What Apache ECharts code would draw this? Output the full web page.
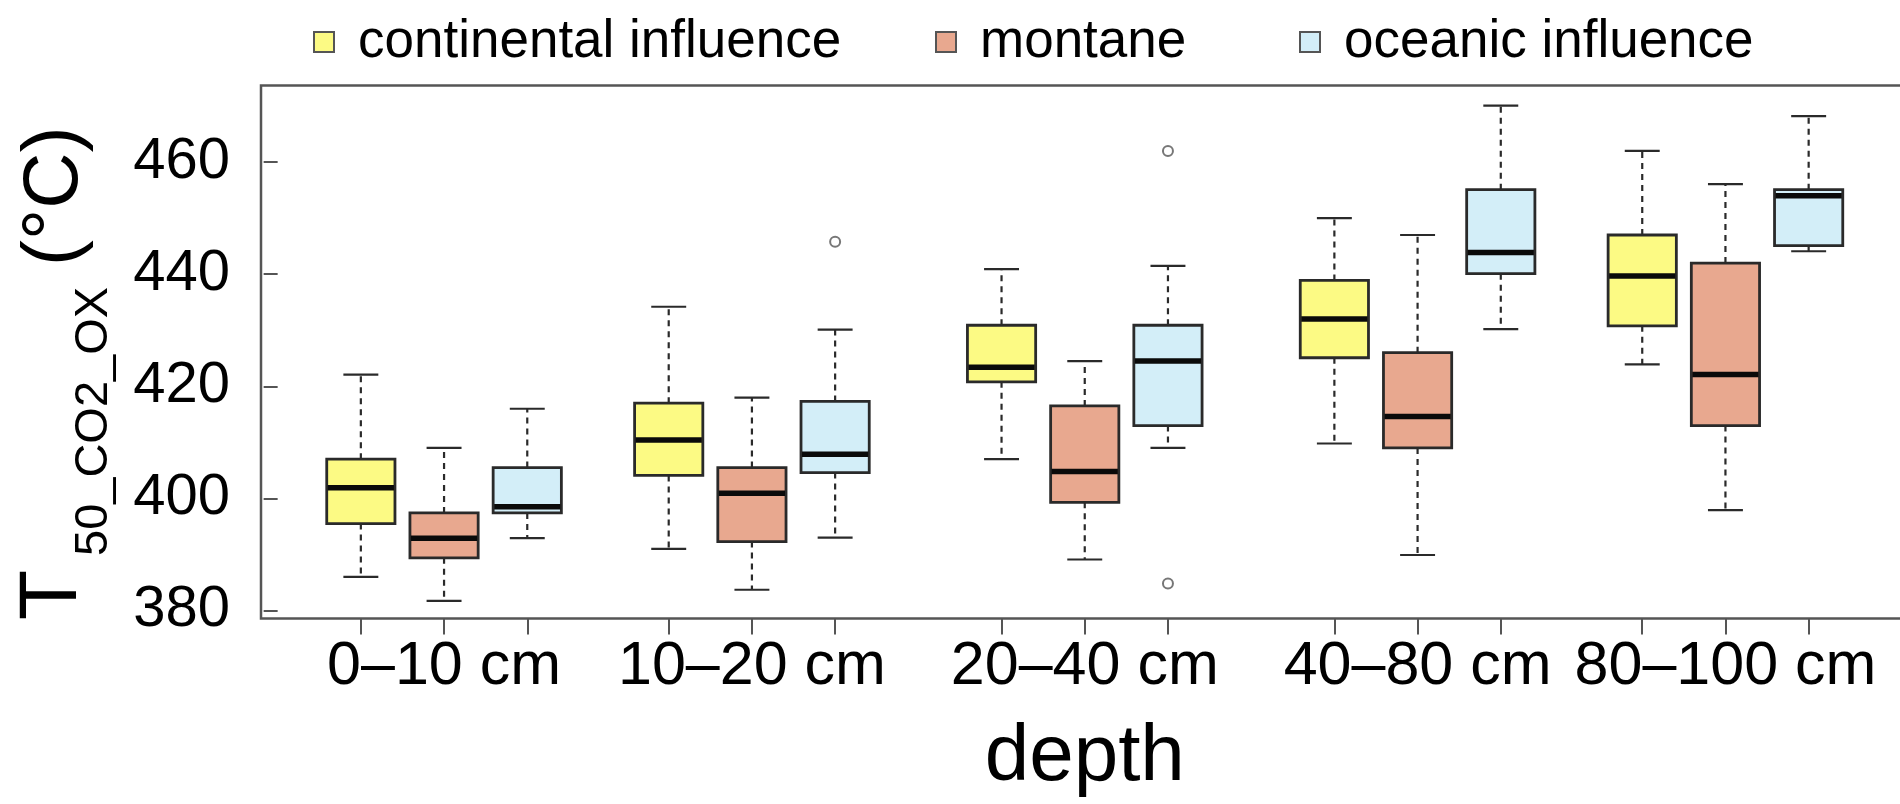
<!DOCTYPE html>
<html>
<head>
<meta charset="utf-8">
<script src="https://cdn.jsdelivr.net/npm/echarts@6/dist/echarts.min.js"></script>
<style>html,body{margin:0;padding:0;background:#fff}#c{width:1900px;height:804px}</style>
</head>
<body>
<div id="c"></div>
<script>
// ---------- data ----------
const categories = ['0–10 cm', '10–20 cm', '20–40 cm', '40–80 cm', '80–100 cm'];
const seriesNames = ['continental influence', 'montane', 'oceanic influence'];
// each row: [lower whisker, Q1, median, Q3, upper whisker]
const continental = [
  [386.0, 395.5, 401.9, 407.0, 422.1],
  [391.0, 404.1, 410.4, 417.0, 434.2],
  [407.0, 420.8, 423.4, 430.9, 440.9],
  [409.8, 425.1, 432.0, 438.9, 450.0],
  [423.9, 430.8, 439.7, 447.0, 462.0]
];
const montane = [
  [381.7, 389.4, 392.9, 397.4, 409.0],
  [383.7, 392.3, 400.9, 405.5, 418.0],
  [389.1, 399.3, 404.8, 416.5, 424.5],
  [389.9, 409.0, 414.6, 426.0, 447.0],
  [397.9, 413.0, 422.1, 442.0, 456.1]
];
const oceanic = [
  [392.9, 397.4, 398.5, 405.5, 416.0],
  [393.0, 404.6, 407.9, 417.3, 430.1],
  [409.0, 413.0, 424.5, 430.9, 441.5],
  [430.2, 440.1, 443.9, 455.1, 470.1],
  [444.1, 445.1, 454.0, 455.1, 468.2]
];
// outliers of oceanic influence: [category index, value]
const oceanicOutliers = [[1, 445.8], [2, 462.0], [2, 384.8]];
const yTicks = [380, 400, 420, 440, 460];

// ---------- layout / style ----------
const FONT = "'Liberation Sans', Arial, sans-serif";
const groupStart = [1, 4.7, 8.7, 12.7, 16.4];   // axis position of first box in each group
const fills = ['#FCFA84', '#E8A88F', '#D3EEF8'];
const BOX_W = 0.82, CAP_W = 0.42;
const STROKE = '#2a2a2a';

const boxPositions = [];
groupStart.forEach(g => { for (let s = 0; s < 3; s++) boxPositions.push(g + s); });
const labelPositions = groupStart.map(g => g + 1);

function renderBox(fill) {
  return function (params, api) {
    const x = api.value(0);
    const pMin = api.coord([x, api.value(1)]);
    const pQ1 = api.coord([x, api.value(2)]);
    const pMed = api.coord([x, api.value(3)]);
    const pQ3 = api.coord([x, api.value(4)]);
    const pMax = api.coord([x, api.value(5)]);
    const bw = api.size([BOX_W, 0])[0];
    const cw = api.size([CAP_W, 0])[0];
    const cx = pMed[0];
    const dash = { stroke: STROKE, lineWidth: 2.2, lineDash: [6, 5] };
    const solid = { stroke: STROKE, lineWidth: 2.2 };
    return {
      type: 'group',
      children: [
        { type: 'line', shape: { x1: cx, y1: pQ3[1], x2: cx, y2: pMax[1] }, style: dash },
        { type: 'line', shape: { x1: cx, y1: pQ1[1], x2: cx, y2: pMin[1] }, style: dash },
        { type: 'line', shape: { x1: cx - cw / 2, y1: pMax[1], x2: cx + cw / 2, y2: pMax[1] }, style: solid },
        { type: 'line', shape: { x1: cx - cw / 2, y1: pMin[1], x2: cx + cw / 2, y2: pMin[1] }, style: solid },
        { type: 'rect', shape: { x: cx - bw / 2, y: pQ3[1], width: bw, height: pQ1[1] - pQ3[1] },
          style: { fill: fill, stroke: STROKE, lineWidth: 2.8 } },
        { type: 'line', shape: { x1: cx - bw / 2 + 1, y1: pMed[1], x2: cx + bw / 2 - 1, y2: pMed[1] },
          style: { stroke: '#0a0a0a', lineWidth: 5.5 } }
      ]
    };
  };
}

const allStats = [continental, montane, oceanic];
const series = allStats.map((stats, si) => ({
  name: seriesNames[si],
  type: 'custom',
  renderItem: renderBox(fills[si]),
  itemStyle: { color: fills[si] },
  encode: { x: 0, y: [1, 2, 3, 4, 5] },
  data: stats.map((row, gi) => [groupStart[gi] + si].concat(row)),
  z: 3
}));
series.push({
  name: 'oceanic outliers',
  type: 'scatter',
  symbol: 'emptyCircle',
  symbolSize: 10,
  itemStyle: { color: '#555', borderColor: '#555', borderWidth: 1.8 },
  data: oceanicOutliers.map(o => [groupStart[o[0]] + 2, o[1]]),
  z: 4
});

const legendLeft = [313, 935, 1299];
const legends = seriesNames.map((n, i) => ({
  data: [{ name: n, icon: 'rect', itemStyle: { color: fills[i], borderColor: '#555', borderWidth: 2 } }],
  left: legendLeft[i], top: 12, padding: 0,
  itemWidth: 20, itemHeight: 20, selectedMode: false,
  textStyle: { fontSize: 53, color: '#000', fontFamily: FONT, padding: [0, 0, 0, 19], lineHeight: 60 }
}));

const chart = echarts.init(document.getElementById('c'));
chart.setOption({
  animation: false,
  backgroundColor: '#fff',
  legend: legends,
  grid: {
    left: 261, right: -8.5, top: 85.4, bottom: 185.4,
    show: true, borderColor: '#555', borderWidth: 2.5,
    containLabel: false, outerBoundsMode: 'none'
  },
  xAxis: {
    type: 'value', min: -0.2, max: 19.6,
    splitLine: { show: false },
    axisLine: { show: false },
    axisTick: { show: true, customValues: boxPositions, length: 16, lineStyle: { color: '#555', width: 2 } },
    axisLabel: {
      customValues: labelPositions,
      formatter: v => categories[labelPositions.findIndex(p => Math.abs(p - v) < 1e-6)] || '',
      fontSize: 61, color: '#000', fontFamily: FONT, margin: 18.5
    },
    name: 'depth', nameLocation: 'middle', nameGap: 99, nameMoveOverlap: false,
    nameTextStyle: { fontSize: 80, color: '#000', fontFamily: FONT }
  },
  yAxis: {
    type: 'value', min: 378.55, max: 473.7,
    splitLine: { show: false },
    axisLine: { show: false },
    axisTick: { show: true, customValues: yTicks, length: 14, lineStyle: { color: '#555', width: 2 } },
    axisLabel: { customValues: yTicks, fontSize: 58, color: '#000', fontFamily: FONT, margin: 31 }
  },
  graphic: [
    { type: 'text', x: 53.6, y: 620, rotation: Math.PI / 2,
      style: { text: 'T', fontSize: 82, fontFamily: FONT, fill: '#000', align: 'left', verticalAlign: 'middle' } },
    { type: 'text', x: 93.7, y: 556, rotation: Math.PI / 2,
      style: { text: '50_CO2_OX', fontSize: 47, fontFamily: FONT, fill: '#000', align: 'left', verticalAlign: 'middle' } },
    { type: 'text', x: 55, y: 266, rotation: Math.PI / 2,
      style: { text: '(°C)', fontSize: 78, fontFamily: FONT, fill: '#000', align: 'left', verticalAlign: 'middle' } }
  ],
  series: series
});
</script>
</body>
</html>
